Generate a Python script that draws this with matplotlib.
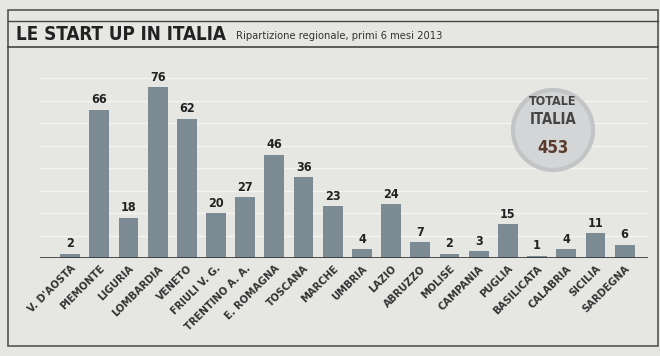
import matplotlib.pyplot as plt
from matplotlib.patches import Rectangle, Circle

# Data
regions = ["V. D'AOSTA", "PIEMONTE", "LIGURIA", "LOMBARDIA", "VENETO",
           "FRIULI V. G.", "TRENTINO A. A.", "E. ROMAGNA", "TOSCANA", "MARCHE",
           "UMBRIA", "LAZIO", "ABRUZZO", "MOLISE", "CAMPANIA",
           "PUGLIA", "BASILICATA", "CALABRIA", "SICILIA", "SARDEGNA"]
startups = [2, 66, 18, 76, 62, 20, 27, 46, 36, 23, 4, 24, 7, 2, 3, 15, 1, 4, 11, 6]
total = 453

bg = '#e6e6e3'
bar_col = '#7b8a93'
cond = dict(family='DejaVu Sans', fontstretch='condensed')

fig = plt.figure(figsize=(6.6, 3.56), dpi=100)
fig.patch.set_facecolor(bg)

# frame and title bar
fig.add_artist(Rectangle((8 / 660, 10 / 356), 650 / 660, 336 / 356, transform=fig.transFigure,
                         fill=False, edgecolor='#555555', lw=1.2))
fig.add_artist(plt.Line2D([8 / 660, 658 / 660], [1 - 47 / 356] * 2, color='#444444', lw=1.2))
fig.add_artist(plt.Line2D([8 / 660, 658 / 660], [1 - 21 / 356] * 2, color='#444444', lw=1.0))
fig.text(16 / 660, 1 - 34 / 356, 'LE START UP IN ITALIA', fontsize=13.5,
         fontweight='bold', color='#222222', va='center', **cond)
fig.text(236 / 660, 1 - 36 / 356, 'Ripartizione regionale, primi 6 mesi 2013',
         fontsize=8, color='#333333', va='center', **cond)

ax = fig.add_axes([40 / 660, 98 / 356, 608 / 660, 198 / 356])
ax.set_facecolor(bg)
ax.set_xlim(-1.03, 19.8)
ax.set_ylim(0, 88)
for y in range(10, 90, 10):
    ax.axhline(y, color='#f4f4f2', lw=1.0, zorder=0)

x = list(range(len(regions)))
ax.bar(x, startups, width=0.68, color=bar_col, zorder=2)
for xi, v in zip(x, startups):
    ax.text(xi, v + 1.5, str(v), ha='center', va='bottom',
            fontsize=9, fontweight='bold', color='#222222', **cond)

ax.axhline(0, color='#333333', lw=1.2, zorder=3)
ax.set_yticks([])
ax.set_xticks(x)
ax.set_xticklabels(regions, rotation=45, ha='right', rotation_mode='anchor',
                   family='DejaVu Sans', fontstretch='condensed', fontsize=8,
                   fontweight='bold', color='#333333')
ax.tick_params(axis='x', length=0, pad=4)
for s in ax.spines.values():
    s.set_visible(False)

# total badge
cx, cy = 553 / 660, 1 - 130 / 356
fig.add_artist(Circle((553, 356 - 130), 40, transform=None, facecolor='#d4d5d6',
                      edgecolor='#c2c4c6', lw=3))
fig.text(cx, cy + 0.08, 'TOTALE', ha='center', va='center',
         fontsize=9, fontweight='bold', color='#444444', **cond)
fig.text(cx, cy + 0.03, 'ITALIA', ha='center', va='center',
         fontsize=10.5, fontweight='bold', color='#444444', **cond)
fig.text(cx, cy - 0.05, str(total), ha='center', va='center',
         fontsize=12, fontweight='bold', color='#5a3a2a', **cond)

fig.savefig('out.png', dpi=100, facecolor=bg)
